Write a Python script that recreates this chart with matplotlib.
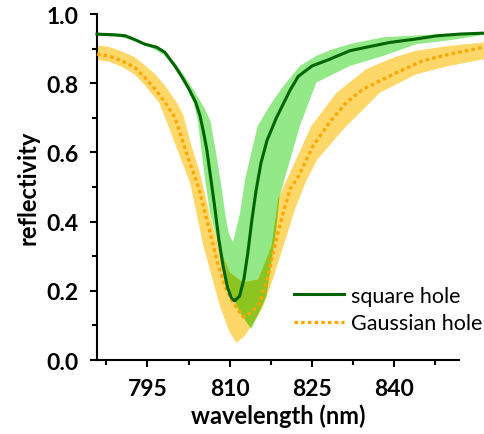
import numpy as np
import matplotlib
matplotlib.use("Agg")
import matplotlib.pyplot as plt

plt.rcParams['font.family'] = ['Lato', 'DejaVu Sans']

# square hole: mean curve
sq_x = [785.8, 789.0, 791.0, 792.7, 794.5, 796.7, 798.2, 800.0, 801.3, 802.5, 803.8,
        804.6, 805.2, 805.8, 806.5, 807.2, 808.0, 808.8, 809.6, 810.3, 810.9, 811.8,
        812.6, 813.3, 814.0, 814.8, 815.7, 816.8, 818.5, 821.0, 822.5, 825.0, 828.0,
        831.9, 834.9, 839.2, 844.0, 847.7, 851.9, 856.5]
sq_y = [0.942, 0.940, 0.937, 0.926, 0.913, 0.904, 0.889, 0.850, 0.818, 0.785, 0.745,
        0.705, 0.660, 0.610, 0.530, 0.450, 0.350, 0.270, 0.210, 0.180, 0.171, 0.185,
        0.235, 0.310, 0.400, 0.490, 0.570, 0.635, 0.700, 0.780, 0.820, 0.850, 0.868,
        0.894, 0.904, 0.918, 0.928, 0.937, 0.942, 0.945]

# square hole: band edges
sq_hi_x = [785.8, 790.0, 793.0, 796.0, 798.0, 800.0, 802.0, 804.0, 805.5, 806.5, 807.5,
           808.5, 809.2, 809.8, 810.6, 811.9, 812.8, 815.1, 817.5, 819.7, 822.8, 825.8,
           828.5, 831.9, 838.0, 844.0, 850.0, 856.5]
sq_hi_y = [0.945, 0.943, 0.925, 0.908, 0.893, 0.860, 0.815, 0.765, 0.725, 0.690, 0.600,
           0.500, 0.420, 0.368, 0.340, 0.426, 0.522, 0.677, 0.740, 0.790, 0.850, 0.879,
           0.897, 0.913, 0.933, 0.938, 0.943, 0.948]
sq_lo_x = [785.8, 790.0, 793.0, 796.0, 798.0, 800.0, 802.0, 803.5, 804.2, 805.5, 806.4,
           808.5, 810.0, 811.8, 813.7, 814.0, 816.7, 818.5, 819.1, 822.8, 825.8, 831.9,
           838.0, 844.0, 850.0, 856.5]
sq_lo_y = [0.938, 0.934, 0.921, 0.900, 0.882, 0.845, 0.795, 0.740, 0.690, 0.522, 0.426,
           0.300, 0.205, 0.138, 0.095, 0.090, 0.185, 0.378, 0.474, 0.677, 0.802, 0.850,
           0.879, 0.913, 0.924, 0.940]

# Gaussian hole: mean curve
ga_x = [785.8, 787.9, 790.3, 792.7, 794.5, 796.4, 798.2, 800.0, 801.5, 802.7, 804.3,
        805.8, 807.6, 809.1, 810.6, 812.4, 813.9, 815.5, 817.0, 818.2, 819.6, 821.0,
        822.5, 825.2, 828.2, 831.3, 834.3, 837.4, 840.7, 845.2, 850.1, 856.2]
ga_y = [0.884, 0.879, 0.865, 0.846, 0.817, 0.783, 0.745, 0.701, 0.629, 0.571, 0.500,
        0.407, 0.291, 0.214, 0.166, 0.125, 0.137, 0.166, 0.243, 0.330, 0.417, 0.494,
        0.530, 0.619, 0.687, 0.745, 0.783, 0.807, 0.833, 0.865, 0.884, 0.904]

# Gaussian hole: band edges
ga_hi_x = [785.8, 788.0, 790.3, 792.7, 794.5, 796.4, 798.2, 800.3, 801.5, 803.0, 804.5,
           805.5, 806.5, 808.0, 810.0, 812.4, 815.2, 817.6, 818.8, 821.0, 824.9, 829.5,
           834.9, 840.0, 844.0, 850.0, 856.5]
ga_hi_y = [0.910, 0.905, 0.892, 0.875, 0.852, 0.826, 0.793, 0.745, 0.710, 0.620, 0.545,
           0.480, 0.410, 0.330, 0.253, 0.225, 0.233, 0.330, 0.465, 0.542, 0.677, 0.773,
           0.841, 0.875, 0.894, 0.908, 0.918]
ga_lo_x = [785.8, 788.0, 790.3, 792.7, 794.5, 796.0, 797.1, 798.8, 802.8, 805.2, 808.2,
           810.0, 811.2, 812.7, 813.9, 816.0, 818.0, 820.0, 822.0, 824.0, 826.0, 831.0,
           837.4, 844.0, 850.0, 856.5]
ga_lo_y = [0.868, 0.862, 0.848, 0.825, 0.795, 0.765, 0.745, 0.677, 0.510, 0.330, 0.156,
           0.080, 0.050, 0.069, 0.098, 0.150, 0.240, 0.340, 0.440, 0.520, 0.580, 0.672,
           0.773, 0.826, 0.850, 0.870]

xticks = [795, 810, 825, 840]
yticks = [0.0, 0.2, 0.4, 0.6, 0.8, 1.0]

fig = plt.figure(figsize=(4.85, 4.35), dpi=100)
ax = fig.add_axes([0.2, 0.170, 0.7464, 0.7954])

green_fill = '#93e987'
yellow_fill = '#fdd767'
overlap_fill = '#8cc522'

gx = np.concatenate([sq_hi_x, sq_lo_x[::-1]])
gy = np.concatenate([sq_hi_y, sq_lo_y[::-1]])
yx = np.concatenate([ga_hi_x, ga_lo_x[::-1]])
yy = np.concatenate([ga_hi_y, ga_lo_y[::-1]])

gpatch = ax.fill(gx, gy, color=green_fill, lw=0, clip_on=False, zorder=1)[0]
ax.fill(yx, yy, color=yellow_fill, lw=0, clip_on=False, zorder=1)
# where the two bands overlap the colours mix to olive
ov = ax.fill(yx, yy, color=overlap_fill, lw=0, zorder=2)[0]
ov.set_clip_path(gpatch)
ov.set_clip_box(None)
ov.set_clip_on(True)

ax.plot(sq_x, sq_y, color='#006400', lw=2.2, clip_on=False, zorder=4, label='square hole')
ax.plot(ga_x, ga_y, color='#ffa500', lw=2.3, dashes=(1.1, 1.0), clip_on=False, zorder=3,
        label='Gaussian hole')

ax.set_xlim(785.8, 851.8)
ax.set_ylim(0, 1.0)
ax.set_xticks(xticks)
ax.set_xticks([787.5, 802.5, 817.5, 832.5, 847.5], minor=True)
ax.set_yticks(yticks)
ax.set_yticklabels(['%.1f' % v for v in yticks])
ax.set_yticks([0.1, 0.3, 0.5, 0.7, 0.9], minor=True)

for s in ['top', 'right']:
    ax.spines[s].set_visible(False)
for s in ['left', 'bottom']:
    ax.spines[s].set_linewidth(1.5)

ax.tick_params(which='major', length=5, width=1.5, pad=8, labelsize=16.5)
ax.tick_params(which='minor', length=3.5, width=1.5)
for lab in ax.get_xticklabels() + ax.get_yticklabels():
    lab.set_fontweight('bold')

ax.set_xlabel('wavelength (nm)', fontsize=17, fontweight='bold', labelpad=3)
ax.set_ylabel('reflectivity', fontsize=17, fontweight='bold', labelpad=5)

ax.legend(loc='lower left', bbox_to_anchor=(0.545, 0.078), frameon=False, fontsize=15.5,
          handlelength=2.3, handletextpad=0.35, labelspacing=0.33, borderpad=0,
          borderaxespad=0)

fig.savefig('out.png', dpi=100)
